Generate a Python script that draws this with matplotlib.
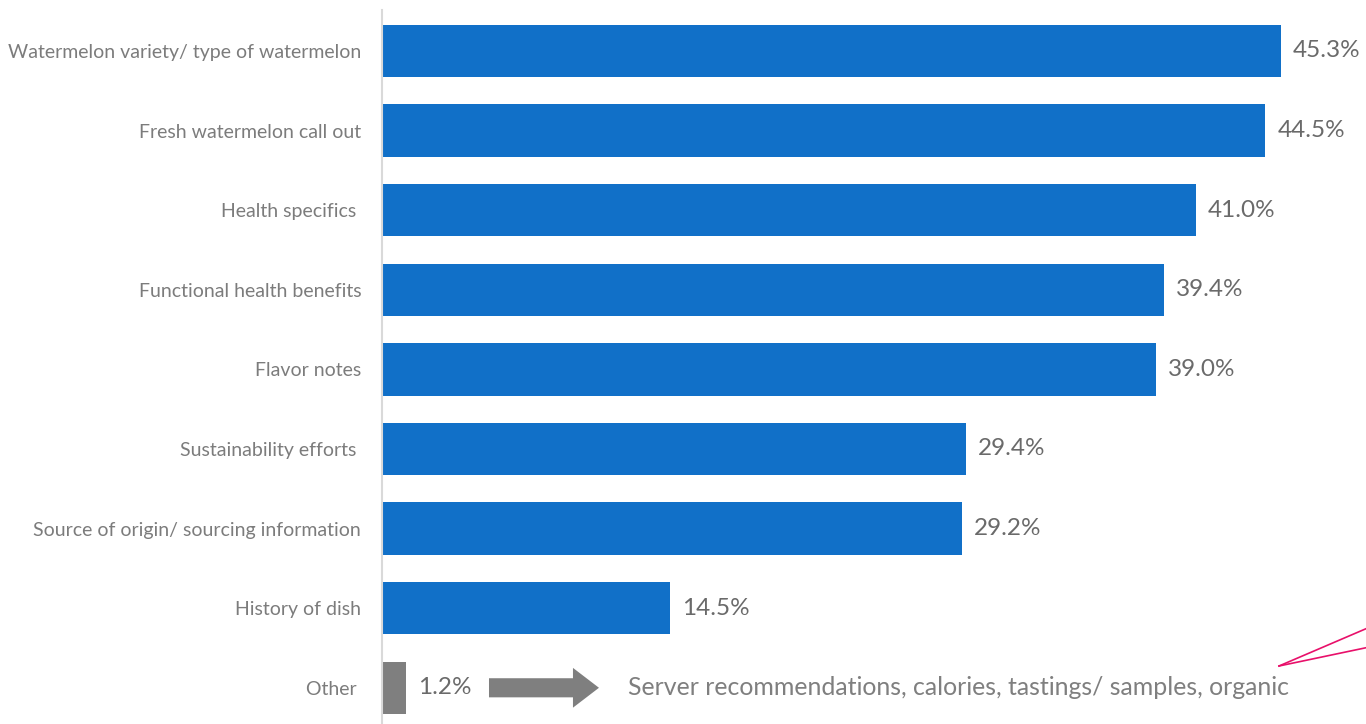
import matplotlib.pyplot as plt
from matplotlib.patches import FancyArrow
from matplotlib.lines import Line2D

categories = [
    'Watermelon variety/ type of watermelon',
    'Fresh watermelon call out',
    'Health specifics ',
    'Functional health benefits',
    'Flavor notes',
    'Sustainability efforts ',
    'Source of origin/ sourcing information',
    'History of dish',
    'Other ',
]
values = [45.3, 44.5, 41.0, 39.4, 39.0, 29.4, 29.2, 14.5, 1.2]
other_note = 'Server recommendations, calories, tastings/ samples, organic'

blue = '#1170c8'
grey = '#7f7f7f'
colors = [blue] * (len(values) - 1) + [grey]

plt.rcParams['font.family'] = ['Lato', 'DejaVu Sans']

fig = plt.figure(figsize=(13.66, 7.24), dpi=100)
ax = fig.add_axes([382 / 1366, 0, 1 - 382 / 1366, 1 - 10 / 724])

y = list(range(len(categories)))
ax.barh(y, values, height=0.66, color=colors)
ax.set_xlim(0, 49.57)
ax.set_ylim(8.455, -0.515)

ax.set_yticks(y)
ax.set_yticklabels(categories, fontsize=14, color='#7c7c7c')
ax.tick_params(axis='y', length=0, pad=15)
ax.set_xticks([])
for side in ['top', 'right', 'bottom']:
    ax.spines[side].set_visible(False)
ax.spines['left'].set_color('#d9d9d9')
ax.spines['left'].set_linewidth(1.5)

for yi, v in zip(y, values):
    ax.text(v + 0.6, yi, f'{v:.1f}%', va='center', ha='left',
            fontsize=17.5, color='#6a6a6a')

# arrow pointing from "Other" to its breakdown
ax.add_patch(FancyArrow(5.39, 8, 5.54, 0, width=0.24, head_width=0.5,
                        head_length=1.31, length_includes_head=True,
                        color=grey, lw=0))
ax.text(12.4, 8, other_note, va='center', ha='left',
        fontsize=17.9, color=grey)

# pink call-out lines running off the right edge
pink = '#e8106a'
for y_end in [620, 645]:
    fig.add_artist(Line2D([1279 / 1366, 1.02],
                          [1 - 666 / 724, 1 - (y_end - 3) / 724],
                          color=pink, lw=1.2, clip_on=False))

fig.savefig('out.png', dpi=100)
